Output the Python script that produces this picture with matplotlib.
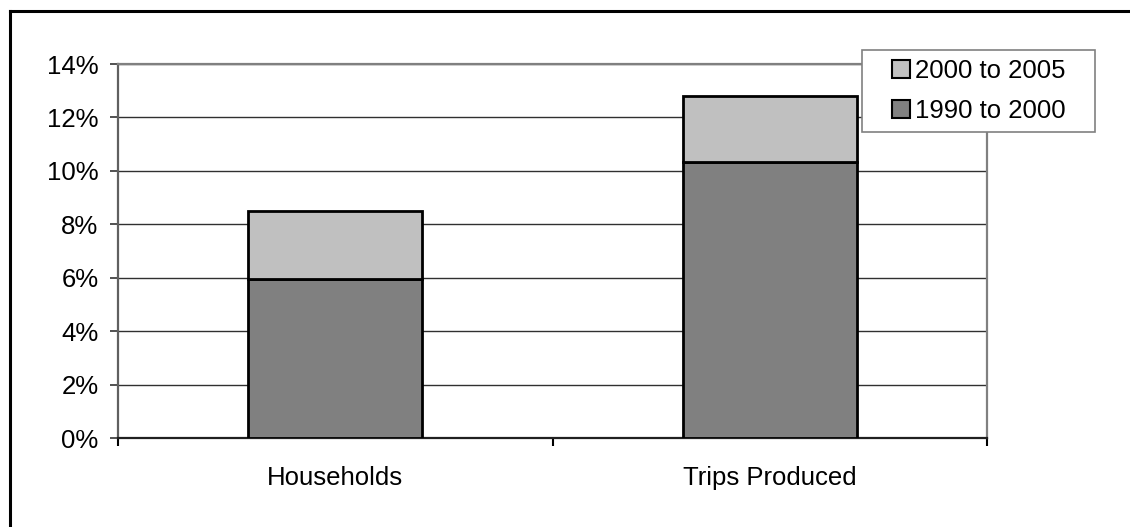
import matplotlib
matplotlib.use("Agg")
import matplotlib.pyplot as plt
from matplotlib.patches import Rectangle, Patch
from matplotlib.lines import Line2D
import numpy as np

plt.rcParams['font.family'] = ['Liberation Sans', 'DejaVu Sans']

# --- data (percent growth) ---
categories = ["Households", "Trips Produced"]
growth_1990_2000 = [5.94, 10.33]
growth_2000_2005 = [2.56, 2.49]
series_labels = ["1990 to 2000", "2000 to 2005"]
series_colors = ["#808080", "#C0C0C0"]
y_ticks = [0, 2, 4, 6, 8, 10, 12, 14]
y_tick_labels = [f"{t}%" for t in y_ticks]

W, H = 1130, 527
fig = plt.figure(figsize=(W / 100, H / 100), dpi=100)
ax = fig.add_axes([118 / W, 1 - 438 / H, (987 - 118) / W, (438 - 64) / H])

fs = 18.5
x = np.arange(len(categories))
ax.bar(x, growth_1990_2000, width=0.4, color=series_colors[0],
       edgecolor="black", linewidth=2, zorder=3)
ax.bar(x, growth_2000_2005, width=0.4, bottom=growth_1990_2000,
       color=series_colors[1], edgecolor="black", linewidth=2, zorder=3)

ax.set_xlim(-0.5, 1.5)
ax.set_ylim(0, 14)
ax.set_yticks(y_ticks)
ax.set_yticklabels(y_tick_labels, fontsize=fs)
ax.set_xticks(x)
ax.set_xticklabels(categories, fontsize=fs)
ax.set_xticks([-0.5, 0.5, 1.5], minor=True)
ax.tick_params(axis="x", which="major", length=0, pad=20)
ax.tick_params(axis="x", which="minor", length=6, width=1.5, color="black")
ax.tick_params(axis="y", which="major", length=6, width=1.2, color="#333333", pad=8)

ax.yaxis.grid(True, color="#303030", linewidth=1.0)
ax.set_axisbelow(True)
for side in ["top", "right", "left"]:
    ax.spines[side].set_color("#808080")
    ax.spines[side].set_linewidth(1.6)
ax.spines["left"].set_color("#606060")
ax.spines["bottom"].set_color("#202020")
ax.spines["bottom"].set_linewidth(1.6)

# legend box drawn by hand so padding matches
lx0, ly0, lx1, ly1 = 862, 50, 1095, 132
box = (lx0 / W, 1 - ly1 / H, (lx1 - lx0) / W, (ly1 - ly0) / H)
fig.add_artist(Rectangle((box[0], box[1]), box[2], box[3], transform=fig.transFigure,
                         facecolor="white", edgecolor="#808080", linewidth=1.2, zorder=4))
handles = [Patch(facecolor=series_colors[1], edgecolor="black", linewidth=1.5),
           Patch(facecolor=series_colors[0], edgecolor="black", linewidth=1.5)]
fig.legend(handles, [series_labels[1], series_labels[0]], loc="center",
           bbox_to_anchor=box, bbox_transform=fig.transFigure, frameon=False,
           fontsize=fs, handlelength=0.7, handleheight=0.7, handletextpad=0.2,
           labelspacing=0.62, borderpad=0)

# outer border (only top and left visible in the crop)
bx, by = 9.5 / W, 1 - 11.3 / H
fig.add_artist(Line2D([bx, 1.0], [by, by], transform=fig.transFigure,
                      color="black", linewidth=2.2))
fig.add_artist(Line2D([bx, bx], [0.0, by], transform=fig.transFigure,
                      color="black", linewidth=2.2))

fig.savefig("out.png", dpi=100, facecolor="white")
